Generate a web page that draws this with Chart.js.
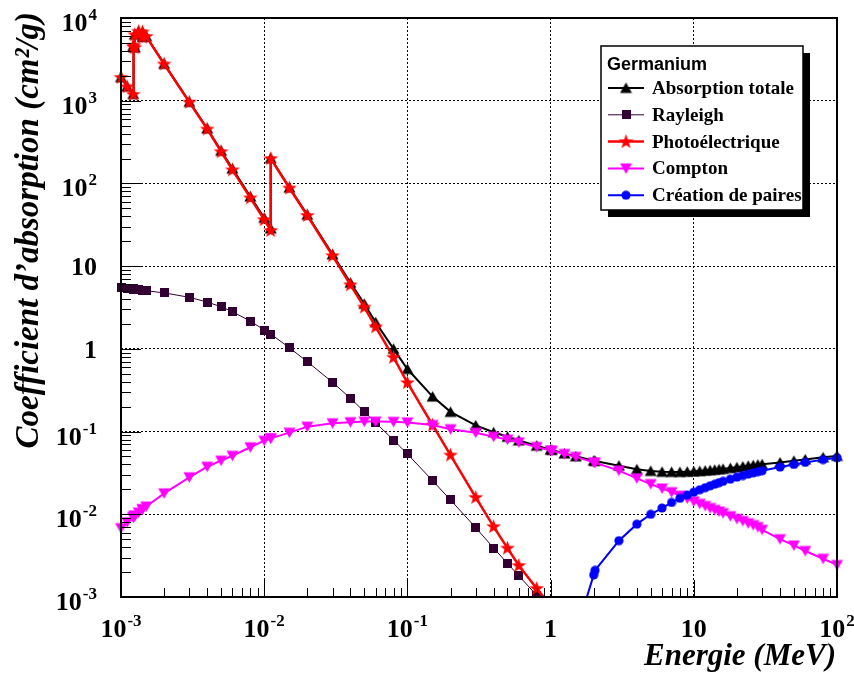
<!DOCTYPE html>
<html>
<head>
<meta charset="utf-8">
<script src="https://cdn.jsdelivr.net/npm/chart.js@4.4.0/dist/chart.umd.min.js"></script>
<style>
  html, body { margin: 0; padding: 0; background: #fff; }
  canvas { display: block; }
</style>
</head>
<body>
<canvas id="absChart" width="854" height="677"></canvas>
<script>
// energies in MeV (XCOM grid, edges repeated)
const energies = [
  0.001, 0.0011035, 0.0012167, 0.0012167, 0.0012321, 0.0012476, 0.0012476, 0.0013277, 0.0014136, 0.0014136,
  0.0015, 0.002, 0.003, 0.004, 0.005, 0.006, 0.008, 0.01, 0.011103, 0.011103,
  0.015, 0.02, 0.03, 0.04, 0.05, 0.06, 0.08, 0.1, 0.15, 0.2,
  0.3, 0.4, 0.5, 0.6, 0.8, 1, 1.022, 1.25, 1.5, 2,
  2.044, 3, 4, 5, 6, 7, 8, 9, 10, 11,
  12, 13, 14, 15, 16, 18, 20, 22, 24, 26,
  28, 30, 40, 50, 60, 80, 100
];
const totalVals = [
  1925, 1485, 1205, 4510, 4700, 4400, 6300, 6900, 5900, 6800,
  6000, 2790, 968, 462, 248, 151, 69.5, 38.3, 28.6, 201.6,
  89.1, 41.8, 13.9, 6.3, 3.5, 2.1, 1.0, 0.57, 0.265, 0.173,
  0.119, 0.098, 0.0865, 0.0782, 0.0675, 0.0605, 0.0600, 0.0543, 0.0502, 0.0445,
  0.0442, 0.0387, 0.0350, 0.0334, 0.0326, 0.0325, 0.0325, 0.0327, 0.0329, 0.0333,
  0.0337, 0.0341, 0.0345, 0.0350, 0.0354, 0.0362, 0.0370, 0.0378, 0.0385, 0.0392,
  0.0398, 0.0402, 0.0423, 0.0443, 0.0461, 0.0488, 0.0508
];
const rayleighVals = [
  5.55, 5.42, 5.30, 5.30, 5.28, 5.26, 5.26, 5.19, 5.13, 5.13,
  5.05, 4.75, 4.20, 3.68, 3.23, 2.81, 2.17, 1.69, 1.51, 1.51,
  1.03, 0.70, 0.394, 0.253, 0.174, 0.128, 0.079, 0.0536, 0.0255, 0.0149,
  0.0069, 0.0039, 0.00255, 0.0018, 0.00105, 0.00068, 0.00065, 0.00043, null, null,
  null, null, null, null, null, null, null, null, null, null,
  null, null, null, null, null, null, null, null, null, null,
  null, null, null, null, null, null, null
];
const photoVals = [
  1915, 1475, 1195, 4500, 4690, 4390, 6290, 6890, 5890, 6790,
  5990, 2780, 960, 455, 242, 146, 67, 36.5, 27, 200,
  88, 41, 13.4, 5.95, 3.2, 1.85, 0.79, 0.39, 0.12, 0.052,
  0.016, 0.0071, 0.0039, 0.0024, 0.00127, 0.00078, 0.00074, 0.00052, 0.00039, 0.00026,
  null, null, null, null, null, null, null, null, null, null,
  null, null, null, null, null, null, null, null, null, null,
  null, null, null, null, null, null, null
];
const comptonVals = [
  0.0068, 0.0080, 0.0092, 0.0092, 0.0094, 0.0096, 0.0096, 0.0105, 0.0115, 0.0115,
  0.0124, 0.0179, 0.028, 0.0376, 0.0445, 0.051, 0.0646, 0.0776, 0.0828, 0.0828,
  0.097, 0.1146, 0.126, 0.130, 0.132, 0.132, 0.131, 0.129, 0.120, 0.107,
  0.097, 0.0867, 0.080, 0.074, 0.0652, 0.059, 0.0585, 0.0537, 0.0494, 0.0424,
  0.0419, 0.0337, 0.0272, 0.0232, 0.0205, 0.0185, 0.0168, 0.0155, 0.0143, 0.0134,
  0.0126, 0.0119, 0.0113, 0.0108, 0.0103, 0.0095, 0.0088, 0.0083, 0.0078, 0.0074,
  0.0070, 0.0065, 0.0050, 0.0042, 0.0036, 0.0029, 0.00244
];
const pairVals = [
  null, null, null, null, null, null, null, null, null, null,
  null, null, null, null, null, null, null, null, null, null,
  null, null, null, null, null, null, null, null, null, null,
  null, null, null, null, null, null, null, 0.00006, 0.00037, 0.00185,
  0.0021, 0.0048, 0.0076, 0.0100, 0.0119, 0.0139, 0.0156, 0.0171, 0.0185, 0.0198,
  0.0210, 0.0221, 0.0231, 0.0241, 0.0250, 0.0266, 0.0281, 0.0294, 0.0306, 0.0317,
  0.0327, 0.0336, 0.0372, 0.0400, 0.0424, 0.0458, 0.0483
];
const seriesLabels = ["Absorption totale", "Rayleigh", "Photo\u00e9lectrique", "Compton", "Cr\u00e9ation de paires"];
const xTickVals = [1e-3, 1e-2, 1e-1, 1, 10, 100];
const xTickText = [["10", "-3"], ["10", "-2"], ["10", "-1"], ["1", ""], ["10", ""], ["10", "2"]];
const yTickVals = [1e-3, 1e-2, 1e-1, 1, 10, 100, 1e3, 1e4];
const yTickText = [["10", "-3"], ["10", "-2"], ["10", "-1"], ["1", ""], ["10", ""], ["10", "2"], ["10", "3"], ["10", "4"]];

const SERIF = '"Liberation Serif", "Times New Roman", serif';

function marker(w, h, draw) {
  const c = document.createElement("canvas");
  c.width = w; c.height = h;
  draw(c.getContext("2d"));
  return c;
}
const triUp = marker(13, 13, g => {
  g.fillStyle = "#000";
  g.beginPath(); g.moveTo(6.5, 1); g.lineTo(12.5, 11.5); g.lineTo(0.5, 11.5); g.closePath(); g.fill();
});
const square = marker(9, 9, g => { g.fillStyle = "#330033"; g.fillRect(0, 0, 9, 9); });
const star = marker(17, 17, g => {
  g.fillStyle = "#ff0000";
  g.beginPath();
  for (let i = 0; i < 10; i++) {
    const r = i % 2 ? 3.1 : 7.8;
    const a = -Math.PI / 2 + i * Math.PI / 5;
    g.lineTo(8.5 + r * Math.cos(a), 8.8 + r * Math.sin(a));
  }
  g.closePath(); g.fill();
});
const triDown = marker(13, 13, g => {
  g.fillStyle = "#ff00ff";
  g.beginPath(); g.moveTo(0.5, 1.5); g.lineTo(12.5, 1.5); g.lineTo(6.5, 12); g.closePath(); g.fill();
});
const circle = marker(10, 10, g => {
  g.fillStyle = "#0000ff";
  g.beginPath(); g.arc(5, 5, 4.6, 0, Math.PI * 2); g.fill();
});

function pts(vals) {
  return energies.map((e, i) => ({ x: e, y: vals[i] }));
}
function series(label, vals, color, width, style, order) {
  return {
    label: label,
    data: pts(vals),
    borderColor: color,
    backgroundColor: color,
    borderWidth: width,
    pointStyle: style,
    pointRadius: 5,
    tension: 0,
    spanGaps: false,
    order: order,
    clip: { left: 10, top: 10, right: 10, bottom: 0 }
  };
}

function drawPow(ctx, parts, x, base, align) {
  ctx.font = "bold 26px " + SERIF;
  const wb = ctx.measureText(parts[0]).width;
  ctx.font = "bold 17px " + SERIF;
  const we = parts[1] ? ctx.measureText(parts[1]).width + 1 : 0;
  const w = wb + we;
  const left = align === "center" ? x - w / 2 : x - w;
  ctx.font = "bold 26px " + SERIF;
  ctx.fillText(parts[0], left, base);
  if (parts[1]) {
    ctx.font = "bold 17px " + SERIF;
    ctx.fillText(parts[1], left + wb + 1, base - 11);
  }
}

const rootFrame = {
  id: "rootFrame",
  afterDraw(chart) {
    const { ctx, chartArea: a, scales: { x, y } } = chart;
    ctx.save();
    ctx.strokeStyle = "#000";
    ctx.fillStyle = "#000";
    ctx.lineWidth = 1;
    ctx.beginPath();
    for (let d = -3; d < 4; d++) {
      for (let k = 1; k < 10; k++) {
        const v = k * Math.pow(10, d);
        const py = Math.round(y.getPixelForValue(v)) + 0.5;
        const len = k === 1 ? 20 : 10;
        ctx.moveTo(a.left, py); ctx.lineTo(a.left + len, py);
      }
    }
    for (let d = -3; d < 2; d++) {
      for (let k = 1; k < 10; k++) {
        const v = k * Math.pow(10, d);
        const px = Math.round(x.getPixelForValue(v)) + 0.5;
        const len = k === 1 ? 17 : 9;
        ctx.moveTo(px, a.bottom); ctx.lineTo(px, a.bottom - len);
      }
    }
    ctx.stroke();
    ctx.lineWidth = 2;
    ctx.strokeRect(a.left, a.top, a.right - a.left, a.bottom - a.top);

    // tick labels
    ctx.textAlign = "left";
    ctx.textBaseline = "alphabetic";
    xTickVals.forEach((v, i) => drawPow(ctx, xTickText[i], x.getPixelForValue(v), a.bottom + 40, "center"));
    yTickVals.forEach((v, i) => {
      const py = y.getPixelForValue(v);
      drawPow(ctx, yTickText[i], a.left - 24, py + (yTickText[i][1] ? 13 : 9), "right");
    });

    // axis titles
    ctx.textAlign = "right";
    ctx.font = "italic bold 31px " + SERIF;
    ctx.fillText("Energie (MeV)", a.right - 1, 665);
    ctx.font = "italic bold 33px " + SERIF;
    ctx.save();
    ctx.translate(38, 12);
    ctx.rotate(-Math.PI / 2);
    ctx.fillText("Coefficient d\u2019absorption (cm\u00b2/g)", 0, 0);
    ctx.restore();

    // legend
    const L = 601, T = 46, W = 202, H = 164;
    ctx.fillRect(L + 7, T + 7, W, H);
    ctx.fillStyle = "#fff";
    ctx.fillRect(L, T, W, H);
    ctx.lineWidth = 1.5;
    ctx.strokeRect(L, T, W, H);
    ctx.fillStyle = "#000";
    ctx.textAlign = "left";
    ctx.font = "bold 18px \"Liberation Sans\", Arial, sans-serif";
    ctx.fillText("Germanium", 607, 70);
    ctx.font = "bold 19px " + SERIF;
    chart.data.datasets.forEach((ds, i) => {
      const cy = 88 + i * 26.8;
      ctx.strokeStyle = ds.borderColor;
      ctx.lineWidth = ds.borderWidth;
      ctx.beginPath(); ctx.moveTo(608, cy); ctx.lineTo(644, cy); ctx.stroke();
      const m = ds.pointStyle;
      ctx.drawImage(m, 626 - m.width / 2, cy - m.height / 2);
      ctx.fillStyle = "#000";
      ctx.fillText(ds.label, 652, cy + 6);
    });
    ctx.restore();
  }
};

const axisOpts = (ticks) => ({
  type: "logarithmic",
  min: ticks[0],
  max: ticks[ticks.length - 1],
  afterBuildTicks: s => { s.ticks = ticks.map(v => ({ value: v })); },
  ticks: { display: false },
  grid: { color: "#000", lineWidth: 1, drawTicks: false },
  border: { display: false, dash: [2, 2] }
});

new Chart(document.getElementById("absChart"), {
  type: "line",
  data: {
    datasets: [
      series(seriesLabels[0], totalVals, "#000000", 2, triUp, 5),
      series(seriesLabels[1], rayleighVals, "#330033", 1, square, 4),
      series(seriesLabels[2], photoVals, "#ff0000", 2.5, star, 3),
      series(seriesLabels[3], comptonVals, "#ff00ff", 2, triDown, 2),
      series(seriesLabels[4], pairVals, "#0000ff", 2, circle, 1)
    ]
  },
  options: {
    responsive: false,
    animation: false,
    layout: { padding: { left: 121, right: 17, top: 18, bottom: 80 } },
    plugins: { legend: { display: false }, tooltip: { enabled: false } },
    scales: { x: axisOpts(xTickVals), y: axisOpts(yTickVals) }
  },
  plugins: [rootFrame]
});
</script>
</body>
</html>
